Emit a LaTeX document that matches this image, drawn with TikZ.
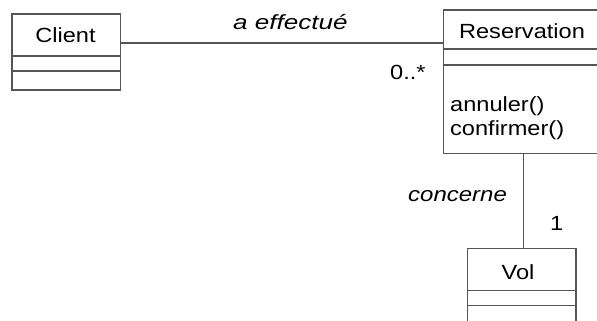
\documentclass[tikz,border=0pt]{standalone}
\usepackage{fontspec}
\setmainfont{Liberation Sans}
\definecolor{umlline}{HTML}{555555}
\newcommand\wtxt[1]{\scalebox{1.15}[1]{#1}}
\newcommand\witxt[2][1.27]{\scalebox{#1}[1]{\itshape #2}}
\begin{document}
\begin{tikzpicture}[x=1pt,y=-1pt,
  umlbox/.style={draw=umlline, line width=1.6pt, fill=white, inner sep=0pt, rectangle},
  compline/.style={draw=umlline, line width=1.6pt},
  assoc/.style={draw=umlline, line width=1.4pt},
  lbl/.style={inner sep=0pt, font=\fontsize{20.5}{24}\selectfont, text=black}]
\useasboundingbox (0,0) rectangle (597,321);
\fill[white] (0,0) rectangle (597,321);
\clip (0,0) rectangle (597,321);
% boxes
\node[umlbox, minimum width=108.5pt, minimum height=76pt] (client) at (66.25,52) {};
\node[umlbox, minimum width=157.7pt, minimum height=143.3pt] (resa) at (522.15,81.65) {};
\node[umlbox, minimum width=108.7pt, minimum height=81.7pt] (vol) at (521.65,289.15) {};
% compartments
\draw[compline] (client.west |- 0,56) -- (client.east |- 0,56);
\draw[compline] (client.west |- 0,71) -- (client.east |- 0,71);
\draw[compline] (resa.west |- 0,49.3) -- (resa.east |- 0,49.3);
\draw[compline] (resa.west |- 0,65.3) -- (resa.east |- 0,65.3);
\draw[compline] (vol.west |- 0,290.5) -- (vol.east |- 0,290.5);
\draw[compline] (vol.west |- 0,305.5) -- (vol.east |- 0,305.5);
% texts
\node[lbl, anchor=base] (clientT) at (65.5,42.3) {\wtxt{Client}};
\node[lbl, anchor=base] (resaT) at (522,38.3) {\wtxt{Reservation}};
\node[lbl, anchor=base west] (op1) at (450,111.7) {\wtxt{annuler()}};
\node[lbl, anchor=base west] (op2) at (450,135) {\wtxt{confirmer()}};
\node[lbl, anchor=base] (volT) at (518,279) {\wtxt{Vol}};
% associations
\coordinate (assocY) at (0,43);
\coordinate (assocX) at (523.3,0);
\draw[assoc] (client.east |- assocY) -- (resa.west |- assocY);
\draw[assoc] (resa.south -| assocX) -- (vol.north -| assocX);
\node[lbl, anchor=base west] (effectue) at (233,30) {\witxt{a effectué}};
\node[lbl, anchor=base west] (mult1) at (390,80) {\wtxt{0..*}};
\node[lbl, anchor=base west] (concerne) at (408,201.7) {\witxt[1.17]{concerne}};
\node[lbl, anchor=base west] (mult2) at (550,230) {\wtxt{1}};
\end{tikzpicture}
\end{document}
